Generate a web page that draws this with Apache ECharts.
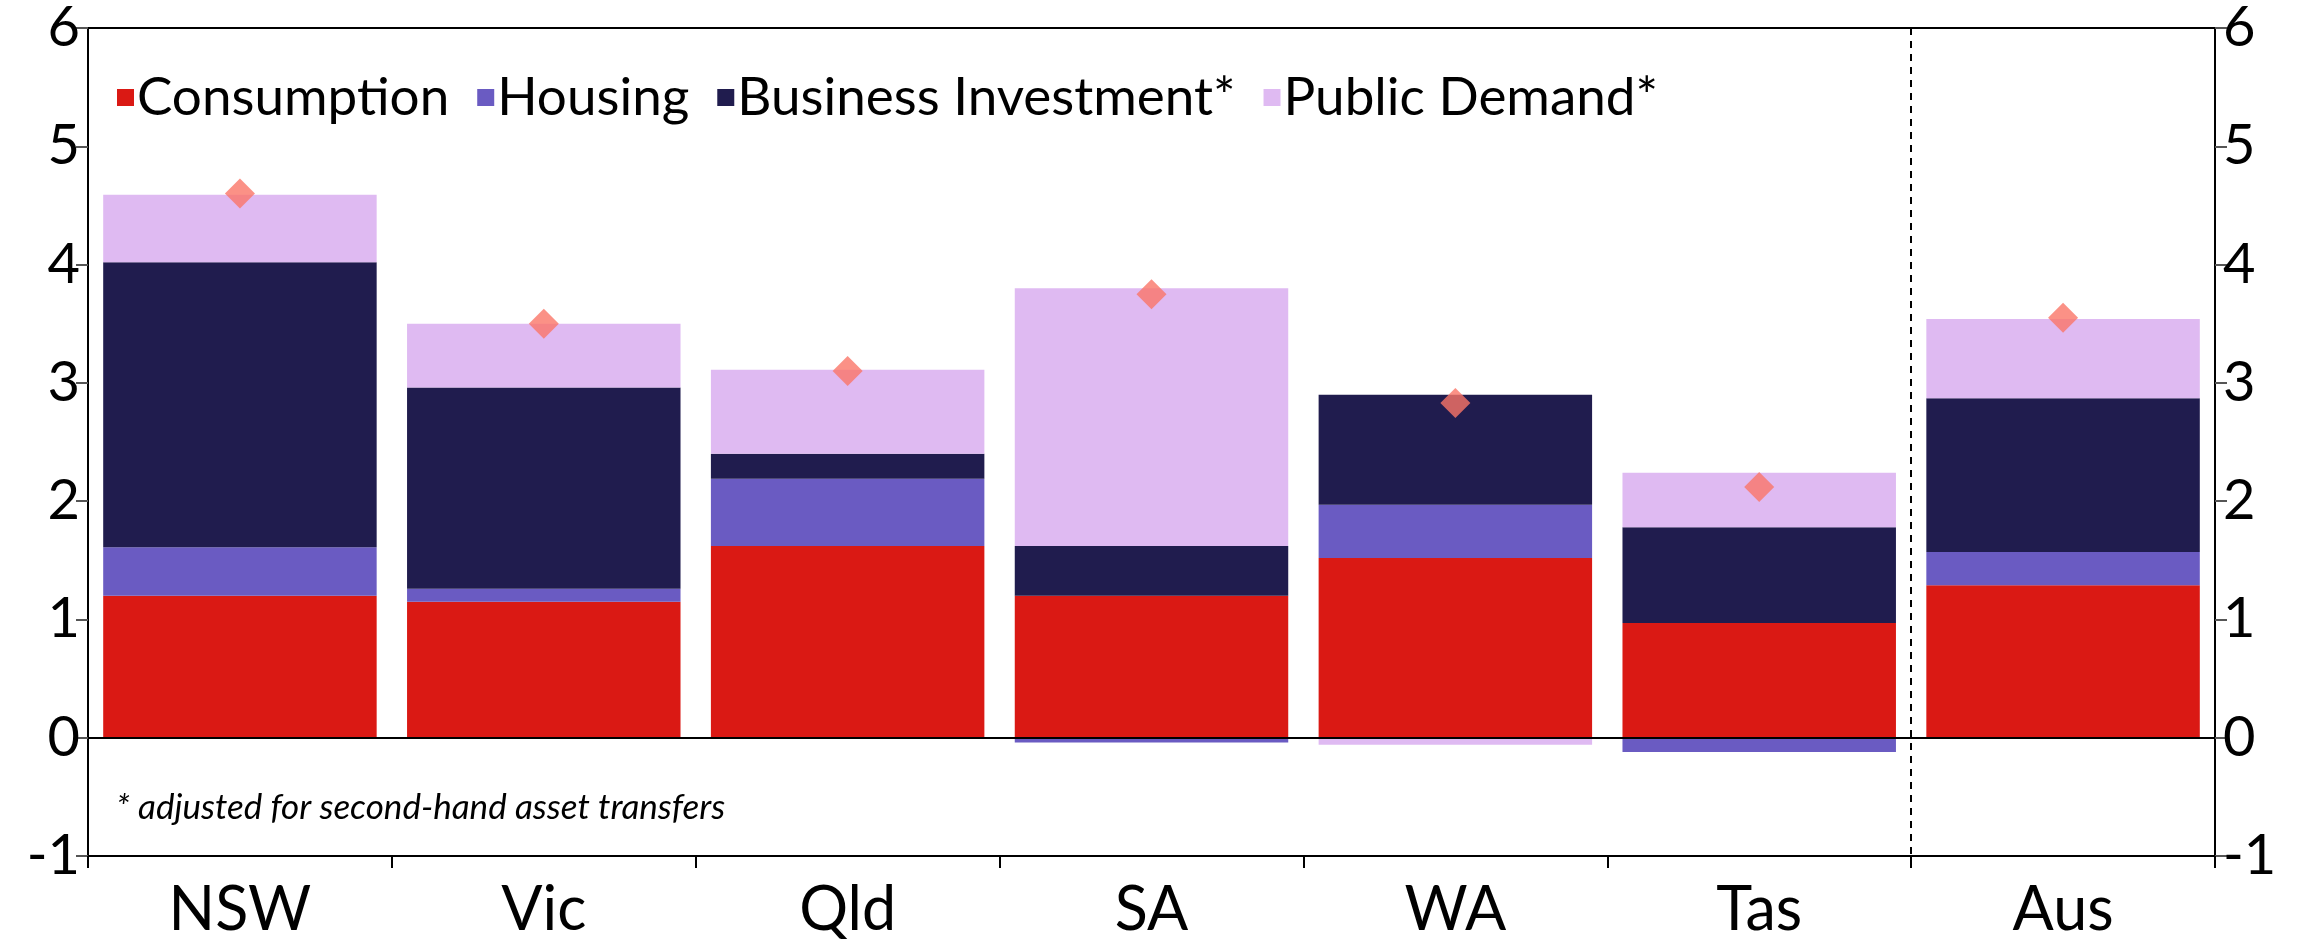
<!DOCTYPE html>
<html>
<head>
<meta charset="utf-8">
<script src="https://cdn.jsdelivr.net/npm/echarts@6/dist/echarts.min.js"></script>
<style>
  html, body { margin: 0; padding: 0; background: #fff; }
  #chart { width: 2303px; height: 943px; }
</style>
</head>
<body>
<div id="chart"></div>
<script>
    'use strict';

    // contribution to growth, ppt
    var regions = ['NSW', 'Vic', 'Qld', 'SA', 'WA', 'Tas', 'Aus'];
    var consumption = [1.20, 1.15, 1.62, 1.20, 1.52, 0.97, 1.29];
    var housing = [0.41, 0.11, 0.57, -0.04, 0.45, -0.12, 0.28];
    var businessInvestment = [2.41, 1.70, 0.21, 0.42, 0.93, 0.81, 1.30];
    var publicDemand = [0.57, 0.54, 0.71, 2.18, -0.06, 0.46, 0.67];
    var totalDemand = [4.60, 3.50, 3.10, 3.75, 2.83, 2.12, 3.55];
    var yTicks = [-1, 0, 1, 2, 3, 4, 5, 6];
    var dividerBefore = 'Aus';

    var font = 'Lato';
    var myChart = echarts.init(document.getElementById('chart'), null, {renderer: 'canvas'});

    function barSeries(name, data, color) {
        return {
            name: name,
            type: 'bar',
            stack: 'total',
            barCategoryGap: '10%',
            data: data,
            itemStyle: {color: color},
            emphasis: {disabled: true}
        };
    }

    var yAxisBase = {
        type: 'value',
        min: yTicks[0],
        max: yTicks[yTicks.length - 1],
        interval: 1,
        axisLine: {show: true, lineStyle: {color: '#000', width: 2}},
        axisTick: {show: true, length: 12, lineStyle: {color: '#555', width: 2}},
        splitLine: {show: false},
        axisLabel: {color: '#000', fontSize: 56, fontFamily: font}
    };

    var option = {
        animation: false,
        backgroundColor: '#fff',
        grid: {
            left: 88, right: 88, top: 26, bottom: 87,
            show: true, borderColor: '#000', borderWidth: 2
        },
        legend: {
            left: 112,
            top: 66,
            itemWidth: 17,
            itemHeight: 17,
            itemGap: 28,
            icon: 'rect',
            textStyle: {fontSize: 53, fontFamily: font, color: '#000', padding: [0, 0, 0, -2]},
            data: ['Consumption', 'Housing', 'Business Investment*', 'Public Demand*']
        },
        xAxis: {
            type: 'category',
            data: regions,
            axisLine: {show: true, onZero: false, lineStyle: {color: '#000', width: 2}},
            axisTick: {show: true, length: 12, lineStyle: {color: '#000', width: 2}},
            axisLabel: {color: '#000', fontSize: 61, fontFamily: font, margin: 24},
            // first category is only there so the band shift lands the divider on Tas|Aus
            splitLine: {
                show: true,
                interval: function (index, value) {
                    return value === regions[0] || value === dividerBefore;
                },
                lineStyle: {color: '#000', width: 2, type: [7, 6]}
            }
        },
        yAxis: [
            echarts.util.merge({position: 'left'}, yAxisBase, true),
            echarts.util.merge({position: 'right'}, yAxisBase, true)
        ],
        graphic: [{
            type: 'text',
            left: 116,
            top: 790,
            style: {
                text: '* adjusted for second-hand asset transfers',
                fontSize: 35,
                fontStyle: 'italic',
                fontFamily: font,
                fill: '#000'
            }
        }],
        series: [
            barSeries('Consumption', consumption, '#DA1914'),
            barSeries('Housing', housing, '#6A5BC2'),
            barSeries('Business Investment*', businessInvestment, '#201C4E'),
            barSeries('Public Demand*', publicDemand, '#DFBAF2'),
            {
                name: 'Total',
                type: 'scatter',
                symbol: 'diamond',
                symbolSize: [30, 30],
                data: totalDemand,
                itemStyle: {color: '#FA7668'},
                z: 5,
                markLine: {
                    silent: true,
                    symbol: 'none',
                    label: {show: false},
                    lineStyle: {color: '#000', width: 2, type: 'solid'},
                    data: [{yAxis: 0}]
                }
            }
        ]
    };

    myChart.setOption(option);
</script>
</body>
</html>
